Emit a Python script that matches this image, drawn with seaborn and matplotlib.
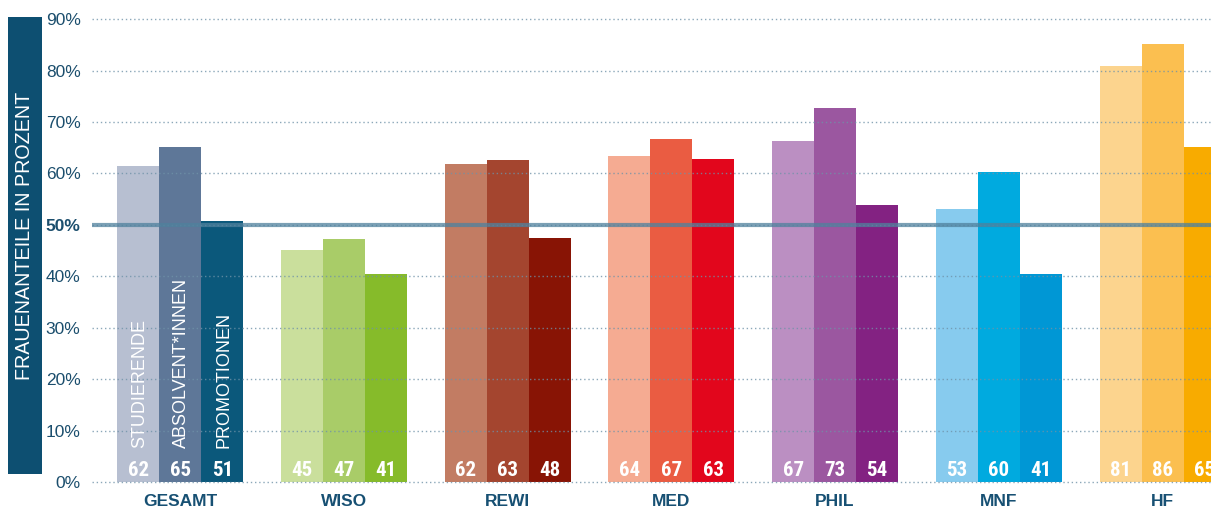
import matplotlib
matplotlib.use("Agg")
import matplotlib.pyplot as plt
from matplotlib import font_manager
from matplotlib.patches import Rectangle
import seaborn as sns
import pandas as pd

# ---- data ----
categories = ["GESAMT", "WISO", "REWI", "MED", "PHIL", "MNF", "HF"]
series = ["STUDIERENDE", "ABSOLVENT*INNEN", "PROMOTIONEN"]
studierende = [61.4, 45.1, 61.9, 63.4, 66.2, 53.1, 80.8]
absolvent = [65.1, 47.3, 62.6, 66.7, 72.7, 60.2, 85.2]
promotionen = [50.8, 40.5, 47.5, 62.8, 53.9, 40.5, 65.1]
labels_stud = [62, 45, 62, 64, 67, 53, 81]
labels_abs = [65, 47, 63, 67, 73, 60, 86]
labels_prom = [51, 41, 48, 63, 54, 41, 65]
yticks = [0, 10, 20, 30, 40, 50, 60, 70, 80, 90]
reference_line = 50

colors = {
    "GESAMT": ["#b7bfd1", "#5e7798", "#0b587b"],
    "WISO": ["#cadf9c", "#a9cc68", "#86bb2a"],
    "REWI": ["#c27c63", "#a4452f", "#881405"],
    "MED": ["#f5ab92", "#ea5c42", "#e2061c"],
    "PHIL": ["#bb8fc2", "#9b57a0", "#832282"],
    "MNF": ["#87cbee", "#00aadf", "#0097d5"],
    "HF": ["#fcd48e", "#fbbf50", "#f8ab00"],
}

sns.set_theme(style="white")
avail = {f.name for f in font_manager.fontManager.ttflist}
base_font = "Liberation Sans" if "Liberation Sans" in avail else "DejaVu Sans"
narrow_font = base_font
for cand in ["Liberation Sans Narrow", "Roboto Condensed", "Open Sans Condensed"]:
    if cand in avail:
        narrow_font = cand
        break
plt.rcParams["font.family"] = [base_font, "DejaVu Sans"]

df = pd.DataFrame({
    "category": categories * 3,
    "series": [series[0]] * 7 + [series[1]] * 7 + [series[2]] * 7,
    "value": studierende + absolvent + promotionen,
})

fig = plt.figure(figsize=(12.11, 5.12), dpi=100)
ax = fig.add_axes([0.0757, 0.0535, 0.9243, 0.9193])

sns.barplot(data=df, x="category", y="value", hue="series", order=categories,
            hue_order=series, width=0.77, palette=["#999999"] * 3,
            linewidth=0, legend=False, ax=ax, errorbar=None, saturation=1)

all_labels = [labels_stud, labels_abs, labels_prom]
for si, cont in enumerate(ax.containers):
    for ci, bar in enumerate(cont):
        bar.set_facecolor(colors[categories[ci]][si])
        bar.set_edgecolor("none")
        bar.set_zorder(2)
        cx = bar.get_x() + bar.get_width() / 2
        ax.text(cx, 1.1, str(all_labels[si][ci]), color="white", ha="center",
                va="baseline", fontsize=15, fontweight="bold",
                family=[narrow_font, "DejaVu Sans"], zorder=5)
        if ci == 0:
            ax.text(cx + 0.01, 6.6, series[si], color="white", rotation=90,
                    ha="center", va="bottom", fontsize=13, zorder=5)

ax.set_xlim(-0.541, 6.296)
ax.set_ylim(-0.5, 91)

for yv in yticks:
    ax.axhline(yv, color="#6f92a8", lw=1.0, ls=(0, (1, 2)), zorder=3, alpha=0.8)
ax.axhline(reference_line, color="#4f819d", lw=3.0, alpha=0.75, zorder=4)

ax.set_yticks(yticks)
ax.set_yticklabels([f"{v}%" for v in yticks], fontsize=12.5, color="#1b4e6d")
for lbl, v in zip(ax.get_yticklabels(), yticks):
    if v == reference_line:
        lbl.set_fontweight("bold")
ax.tick_params(axis="y", length=0, pad=8)
ax.tick_params(axis="x", length=0, pad=7)
ax.set_xticks(range(len(categories)))
ax.set_xticklabels(categories, fontsize=12.5, fontweight="bold", color="#175073")
ax.set_xlabel("")
ax.set_ylabel("")
for sp in ax.spines.values():
    sp.set_visible(False)

# y-label band
fig.patches.append(Rectangle((8 / 1211, 1 - 474 / 512), 33.5 / 1211, (474 - 17.3) / 512,
                             transform=fig.transFigure, facecolor="#0d4f71",
                             edgecolor="none", zorder=0))
fig.text(25 / 1211, 1 - 236 / 512, "FRAUENANTEILE IN PROZENT", rotation=90,
         color="white", ha="center", va="center", fontsize=14.2)

fig.savefig("out.png", dpi=100)
